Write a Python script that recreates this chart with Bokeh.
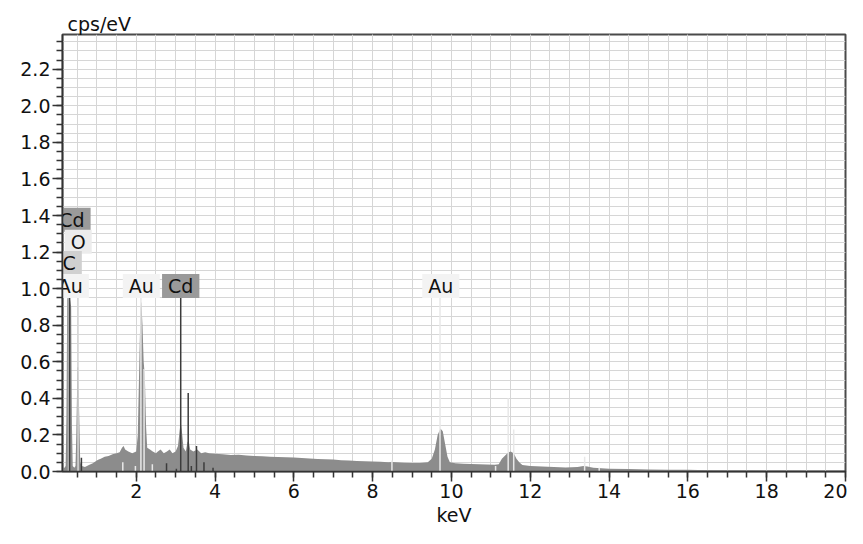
from bokeh.plotting import figure
from bokeh.models import Range1d, SingleIntervalTicker, NumeralTickFormatter
from bokeh.core.properties import value
from bokeh.embed import file_html
from bokeh.resources import INLINE

# ---- spectrum (keV, cps/eV) ----
energy_kev = [
    0.13, 0.18, 0.21, 0.23, 0.25, 0.27, 0.29, 0.31, 0.33, 0.35, 0.37, 0.39,
    0.43, 0.46, 0.48, 0.51, 0.53, 0.55, 0.58, 0.62, 0.70, 0.80, 0.90, 1.00,
    1.05, 1.10, 1.20, 1.30, 1.40, 1.50, 1.58, 1.64, 1.68, 1.72, 1.80, 1.90,
    2.00, 2.04, 2.08, 2.11, 2.13, 2.16, 2.19, 2.22, 2.25, 2.28, 2.35, 2.42,
    2.50, 2.55, 2.62, 2.70, 2.78, 2.85, 2.92, 3.00, 3.06, 3.10, 3.13, 3.16,
    3.20, 3.26, 3.30, 3.33, 3.37, 3.45, 3.55, 3.65, 3.75, 3.85, 4.00, 4.20,
    4.40, 4.60, 4.80, 5.00, 5.20, 5.40, 5.60, 5.80, 6.00, 6.20, 6.40, 6.60,
    6.80, 7.00, 7.20, 7.40, 7.60, 7.80, 8.00, 8.20, 8.40, 8.50, 8.60, 8.80,
    9.00, 9.20, 9.40, 9.50, 9.58, 9.65, 9.72, 9.78, 9.84, 9.90, 9.96, 10.10,
    10.30, 10.50, 10.70, 10.90, 11.10, 11.20, 11.28, 11.35, 11.42, 11.50, 11.58, 11.65,
    11.72, 11.80, 12.00, 12.30, 12.60, 12.90, 13.20, 13.35, 13.45, 13.60, 13.80, 14.00,
    14.50, 15.00, 15.50, 16.00, 16.50, 17.00, 17.50, 18.00, 18.50, 19.00, 19.50, 20.00,
]
counts_cps = [
    0.02, 0.02, 0.03, 0.30, 0.94, 0.96, 0.96, 0.95, 0.93, 0.90, 0.25, 0.03,
    0.02, 0.03, 0.20, 0.57, 0.57, 0.35, 0.05, 0.03, 0.025, 0.035, 0.045, 0.06,
    0.065, 0.07, 0.08, 0.085, 0.095, 0.10, 0.105, 0.13, 0.14, 0.12, 0.11, 0.10,
    0.11, 0.20, 0.60, 0.90, 0.93, 0.80, 0.60, 0.52, 0.25, 0.13, 0.12, 0.11,
    0.10, 0.11, 0.12, 0.10, 0.11, 0.12, 0.10, 0.11, 0.14, 0.22, 0.27, 0.22,
    0.13, 0.11, 0.16, 0.17, 0.12, 0.11, 0.12, 0.10, 0.105, 0.10, 0.097, 0.094,
    0.09, 0.091, 0.087, 0.085, 0.083, 0.081, 0.079, 0.078, 0.077, 0.074, 0.071, 0.069,
    0.067, 0.065, 0.062, 0.060, 0.058, 0.056, 0.055, 0.053, 0.051, 0.052, 0.05, 0.048,
    0.046, 0.046, 0.05, 0.07, 0.12, 0.20, 0.235, 0.22, 0.15, 0.08, 0.05, 0.045,
    0.043, 0.041, 0.04, 0.038, 0.037, 0.04, 0.07, 0.085, 0.10, 0.11, 0.10, 0.07,
    0.05, 0.035, 0.03, 0.028, 0.025, 0.022, 0.024, 0.03, 0.028, 0.02, 0.018, 0.015,
    0.013, 0.011, 0.01, 0.009, 0.007, 0.006, 0.005, 0.004, 0.004, 0.003, 0.003, 0.003,
]

# ---- element marker lines (keV, top in cps/eV) ----
cd_line_kev = [0.31, 0.61, 2.77, 3.02, 3.13, 3.32, 3.40, 3.53, 3.72, 3.95]
cd_line_top = [1.33, 0.075, 0.045, 0.015, 0.97, 0.43, 0.03, 0.14, 0.05, 0.02]
au_line_kev = [1.66, 1.98, 2.12, 2.20, 2.41, 8.49, 9.71, 11.12, 11.44, 11.58, 13.38, 13.75]
au_line_top = [0.05, 0.03, 0.96, 0.56, 0.04, 0.06, 0.96, 0.03, 0.40, 0.23, 0.08, 0.02]
o_line_kev = [0.525]
o_line_top = [0.96]
c_line_kev = [0.277]
c_line_top = [1.10]

# ---- element labels ----
label_text = ["Cd", "O", "C", "Au", "Au", "Cd", "Au"]
label_kev = [0.37, 0.53, 0.30, 0.33, 2.13, 3.13, 9.73]
label_level = [1.377, 1.257, 1.14, 1.015, 1.015, 1.015, 1.015]

FONT = "DejaVu Sans"
FS = "19px"

p = figure(width=847, height=528,
           x_range=Range1d(0.13, 20.0), y_range=Range1d(0, 2.39),
           output_backend="svg", toolbar_location=None,
           min_border_left=62, min_border_right=2, min_border_top=34,
           min_border_bottom=0, title="cps/eV")

p.background_fill_color = "white"
p.border_fill_color = "white"
p.outline_line_color = "#4a4a4a"
p.outline_line_width = 2

p.title.text_font = FONT
p.title.text_font_size = FS
p.title.text_font_style = "normal"
p.title.text_color = "#111111"
p.title.align = "left"
p.title.offset = 5
p.title.standoff = 0

xt = SingleIntervalTicker(interval=2, num_minor_ticks=4)
yt = SingleIntervalTicker(interval=0.2, num_minor_ticks=4)
p.xaxis.ticker = xt
p.yaxis.ticker = yt
p.xgrid.ticker = xt
p.ygrid.ticker = yt
p.yaxis.formatter = NumeralTickFormatter(format="0.0")

for g in (p.xgrid, p.ygrid):
    g.grid_line_color = "#d6d6d6"
    g.grid_line_width = 1
    g.minor_grid_line_color = "#d6d6d6"
    g.minor_grid_line_width = 1

for ax in (p.xaxis, p.yaxis):
    ax.axis_line_color = "#333333"
    ax.axis_line_width = 1.5
    ax.major_tick_line_color = "#333333"
    ax.minor_tick_line_color = "#333333"
    ax.major_tick_line_width = 1.5
    ax.minor_tick_line_width = 1.5
    ax.major_tick_out = 10
    ax.major_tick_in = 0
    ax.minor_tick_out = 6
    ax.minor_tick_in = 0
    ax.major_label_text_font = FONT
    ax.major_label_text_font_size = FS
    ax.major_label_text_color = "#111111"
    ax.major_label_standoff = 2

p.xaxis.axis_label = "keV"
p.xaxis.axis_label_text_font = FONT
p.xaxis.axis_label_text_font_size = FS
p.xaxis.axis_label_text_font_style = "normal"
p.xaxis.axis_label_text_color = "#111111"
p.xaxis.axis_label_standoff = 3

# spectrum
p.varea(x=energy_kev, y1=[0] * len(energy_kev), y2=counts_cps,
        fill_color="#8c8c8c", fill_alpha=1.0)

# marker lines
p.segment(x0=cd_line_kev, y0=[0] * len(cd_line_kev), x1=cd_line_kev, y1=cd_line_top,
          line_color="#3c3c3c", line_width=1.5)
p.segment(x0=au_line_kev, y0=[0] * len(au_line_kev), x1=au_line_kev, y1=au_line_top,
          line_color="#e8e8e8", line_width=1.5)
p.segment(x0=o_line_kev, y0=[0] * len(o_line_kev), x1=o_line_kev, y1=o_line_top,
          line_color="#d8d8d8", line_width=1.5)
p.segment(x0=c_line_kev, y0=[0] * len(c_line_kev), x1=c_line_kev, y1=c_line_top,
          line_color="#aaaaaa", line_width=1.5)

# labels with background boxes
label_bg = {"Cd": "#9a9a9a", "O": "#ececec", "C": "#d0d0d0", "Au": "#f3f3f3"}
for elem, bg in label_bg.items():
    idx = [i for i, t in enumerate(label_text) if t == elem]
    p.text(x=[label_kev[i] for i in idx], y=[label_level[i] for i in idx],
           text=[label_text[i] for i in idx],
           text_font=value(FONT), text_font_size=FS, text_color="#111111",
           text_align="center", text_baseline="middle",
           background_fill_color=bg, background_fill_alpha=1.0,
           border_line_color=None, padding=(6, 1))

open("out.html", "w").write(file_html(p, INLINE))
